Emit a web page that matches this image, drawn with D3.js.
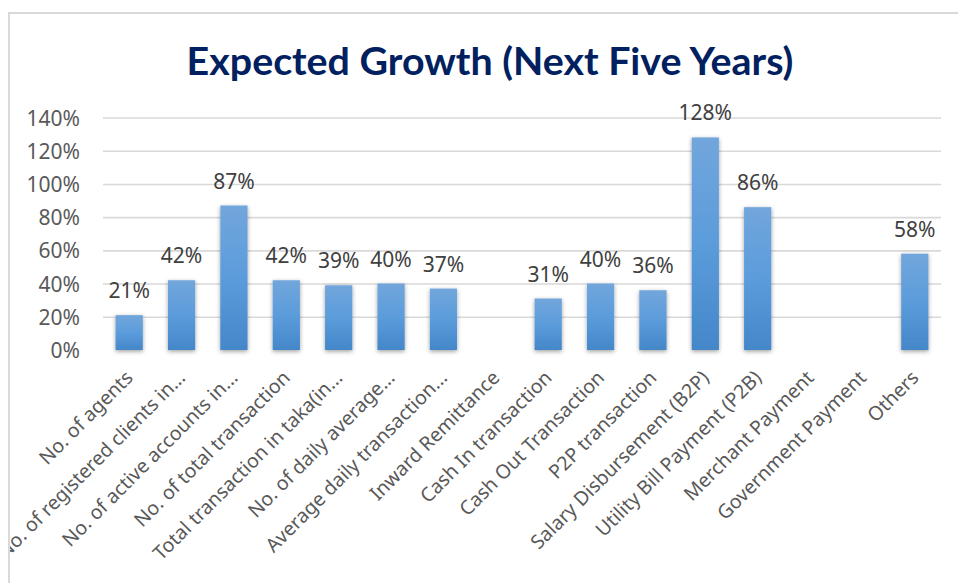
<!DOCTYPE html>
<html>
<head>
<meta charset="utf-8">
<script src="https://cdn.jsdelivr.net/npm/d3@7"></script>
<style>
  html, body { margin: 0; padding: 0; background: #fff; }
  svg { display: block; }
</style>
</head>
<body>
<svg id="chart" width="958" height="583"></svg>
<script>
// Expected growth by service line over the next five years (share, 1 = 100%)
const categories = [
  "No. of agents",
  "No. of registered clients in...",
  "No. of active accounts in...",
  "No. of total transaction",
  "Total transaction in taka(in...",
  "No. of daily average...",
  "Average daily transaction...",
  "Inward Remittance",
  "Cash In transaction",
  "Cash Out Transaction",
  "P2P transaction",
  "Salary Disbursement (B2P)",
  "Utility Bill Payment (P2B)",
  "Merchant Payment",
  "Government Payment",
  "Others"
];
const growth = [0.21, 0.42, 0.87, 0.42, 0.39, 0.40, 0.37, null, 0.31, 0.40, 0.36, 1.28, 0.86, null, null, 0.58];
const yTicks = [0, 0.2, 0.4, 0.6, 0.8, 1.0, 1.2, 1.4];
const titleText = "Expected Growth (Next Five Years)";

const W = 958, H = 583;
const plot = { left: 103, right: 941, top: 117.5, bottom: 350 };
const bodyFont = "'Noto Sans', 'Open Sans', sans-serif";

const svg = d3.select("#chart");
const defs = svg.append("defs");

// Vertical gradient used to fill bars
const grad = defs.append("linearGradient")
  .attr("id", "barFill").attr("x1", 0).attr("y1", 0).attr("x2", 0).attr("y2", 1);
grad.append("stop").attr("offset", "0%").attr("stop-color", "#72a6dc");
grad.append("stop").attr("offset", "50%").attr("stop-color", "#5b9cdb");
grad.append("stop").attr("offset", "100%").attr("stop-color", "#4487c9");

// Soft shadow around bars
const sh = defs.append("filter").attr("id", "barShadow")
  .attr("x", "-40%").attr("y", "-10%").attr("width", "180%").attr("height", "125%");
sh.append("feDropShadow").attr("dx", 0).attr("dy", 1.5).attr("stdDeviation", 2.2)
  .attr("flood-color", "#000").attr("flood-opacity", 0.38);

const lineShadow = defs.append("filter").attr("id", "lineShadow")
  .attr("x", "-5%").attr("y", "-200%").attr("width", "110%").attr("height", "500%");
lineShadow.append("feDropShadow").attr("dx", 0).attr("dy", 1.2).attr("stdDeviation", 1)
  .attr("flood-color", "#000").attr("flood-opacity", 0.3);

// Chart area clip (text is cut at the frame edge)
defs.append("clipPath").attr("id", "frameClip")
  .append("rect").attr("x", 10).attr("y", 13).attr("width", W).attr("height", H);

// Frame
svg.append("path")
  .attr("d", `M9,${H} L9,13 L${W},13`)
  .attr("fill", "none").attr("stroke", "#d9d9d9").attr("stroke-width", 2);

const g = svg.append("g").attr("clip-path", "url(#frameClip)");

// Scales
const x = d3.scaleBand()
  .domain(categories)
  .range([plot.left, plot.right])
  .paddingInner(0.48)
  .paddingOuter(0.24);

const y = d3.scaleLinear()
  .domain([0, 1.4])
  .range([plot.bottom, plot.top]);

// Title
const title = g.append("text")
  .text(titleText)
  .attr("font-family", "Lato, 'Open Sans', sans-serif")
  .attr("font-weight", 700)
  .attr("font-size", 39)
  .attr("fill", "#002060")
  .attr("text-anchor", "middle");
const tw = title.node().getComputedTextLength();
title.attr("transform", `translate(490,75) scale(${607 / tw},1)`);

// Gridlines
const yAxisGrid = d3.axisLeft(y).tickValues(yTicks.filter(t => t > 0))
  .tickSize(-(plot.right - plot.left)).tickFormat("");
const grid = g.append("g").attr("transform", `translate(${plot.left},0)`).call(yAxisGrid);
grid.select(".domain").remove();
grid.selectAll(".tick line").attr("stroke", "#d9d9d9").attr("stroke-width", 1.6);

// Y tick labels
const yAxis = d3.axisLeft(y).tickValues(yTicks).tickSize(0).tickPadding(0)
  .tickFormat(d3.format(".0%"));
const ya = g.append("g").attr("transform", `translate(80,0)`).call(yAxis);
ya.select(".domain").remove();
ya.selectAll(".tick text")
  .attr("font-family", bodyFont)
  .attr("font-size", 21)
  .attr("fill", "#595959")
  .attr("dy", "0.36em");

// Bars
const data = categories.map((c, i) => ({ c, v: growth[i] })).filter(d => d.v != null);
g.append("g").selectAll("rect").data(data).join("rect")
  .attr("x", d => x(d.c))
  .attr("width", x.bandwidth())
  .attr("y", d => y(d.v))
  .attr("height", d => y(0) - y(d.v))
  .attr("fill", "url(#barFill)")
  .attr("filter", "url(#barShadow)");

// Baseline
g.append("line")
  .attr("x1", plot.left).attr("x2", plot.right)
  .attr("y1", y(0)).attr("y2", y(0))
  .attr("stroke", "#c9c9c9").attr("stroke-width", 2)
  .attr("filter", "url(#lineShadow)");

// Value labels
g.append("g").selectAll("text").data(data).join("text")
  .attr("x", d => x(d.c) + x.bandwidth() / 2)
  .attr("y", d => y(d.v) - 17)
  .attr("text-anchor", "middle")
  .attr("font-family", bodyFont)
  .attr("font-size", 21)
  .attr("fill", "#404040")
  .text(d => d3.format(".0%")(d.v));

// Category labels (rotated)
const xAxis = d3.axisBottom(x).tickSize(0).tickPadding(0);
const xa = g.append("g").call(xAxis);
xa.select(".domain").remove();
xa.selectAll(".tick").attr("transform", d => `translate(${x(d) + x.bandwidth() / 2 - 5},369)`);
xa.selectAll(".tick text")
  .attr("font-family", bodyFont)
  .attr("font-size", 19.5)
  .attr("fill", "#595959")
  .attr("text-anchor", "end")
  .attr("x", 0).attr("y", 0)
  .attr("dy", "0.72em")
  .attr("transform", "rotate(-45)");
</script>
</body>
</html>
